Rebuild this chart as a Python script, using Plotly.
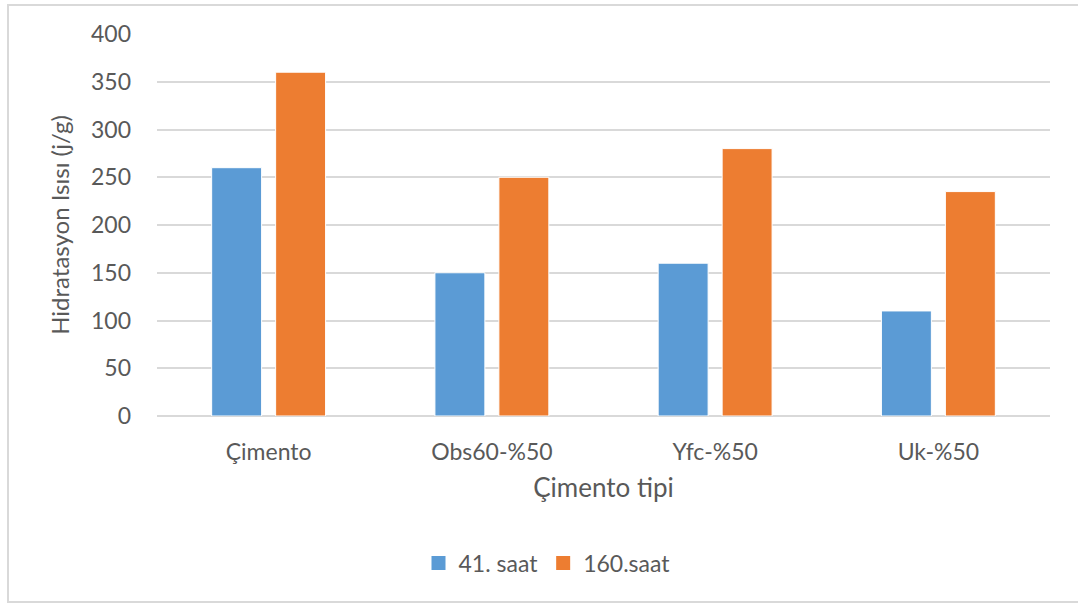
import plotly.graph_objects as go

# Cement types and hydration heat (j/g) at two curing times
categories = ["Çimento", "Obs60-%50", "Yfc-%50", "Uk-%50"]
saat_41 = [260, 150, 160, 110]
saat_160 = [360, 250, 280, 235]
series_names = ["41. saat", "160.saat"]
y_ticks = [0, 50, 100, 150, 200, 250, 300, 350, 400]

BLUE = "#5B9BD5"
ORANGE = "#ED7D31"
TEXT = "#595959"
GRID = "#D9D9D9"
FONT = "Lato, 'Open Sans', sans-serif"

W, H = 1078, 603
L, R, T, B = 157, 28, 34, 187
pw, ph = W - L - R, H - T - B


def px_x(p):
    return (p - L) / pw


def px_y(p):
    return (H - B - p) / ph


fig = go.Figure()
for name, vals, col in [(series_names[0], saat_41, BLUE), (series_names[1], saat_160, ORANGE)]:
    fig.add_trace(go.Bar(
        x=categories, y=vals, name=name, showlegend=False,
        marker=dict(color=col, line=dict(color="white", width=1)),
    ))

# legend entries with square swatches
for name, col in [(series_names[0], BLUE), (series_names[1], ORANGE)]:
    fig.add_trace(go.Scatter(
        x=[None], y=[None], mode="markers", name=name,
        marker=dict(symbol="square", size=14, color=col),
    ))

fig.update_layout(
    width=W, height=H,
    margin=dict(l=L, r=R, t=T, b=B),
    paper_bgcolor="white", plot_bgcolor="white",
    barmode="group", bargap=0.427, bargroupgap=0.219,
    font=dict(family=FONT, color=TEXT, size=22),
    showlegend=True,
    legend=dict(
        orientation="h", x=px_x(547), xanchor="center", y=px_y(563), yanchor="middle",
        font=dict(size=23, color=TEXT), traceorder="normal",
        itemwidth=30, tracegroupgap=0,
    ),
    xaxis=dict(
        showline=False, ticks="", showgrid=False, ticklabelstandoff=20,
        tickfont=dict(size=23, color=TEXT),
        title=dict(text="Çimento tipi", font=dict(size=26, color=TEXT), standoff=14),
    ),
    yaxis=dict(
        range=[0, 400], tickvals=y_ticks, showgrid=True, gridcolor=GRID, gridwidth=2,
        zeroline=True, zerolinecolor=GRID, zerolinewidth=2,
        showline=False, ticks="", ticklabelstandoff=25,
        tickfont=dict(size=23, color=TEXT),
        title=dict(text="Hidratasyon Isısı (j/g)", font=dict(size=24, color=TEXT), standoff=14),
    ),
    shapes=[
        dict(type="rect", xref="paper", yref="paper",
             x0=px_x(8), x1=px_x(W + 10), y0=px_y(602), y1=px_y(5),
             line=dict(color=GRID, width=2), fillcolor="rgba(0,0,0,0)", layer="below"),
    ],
)

fig.write_html("out.html")
